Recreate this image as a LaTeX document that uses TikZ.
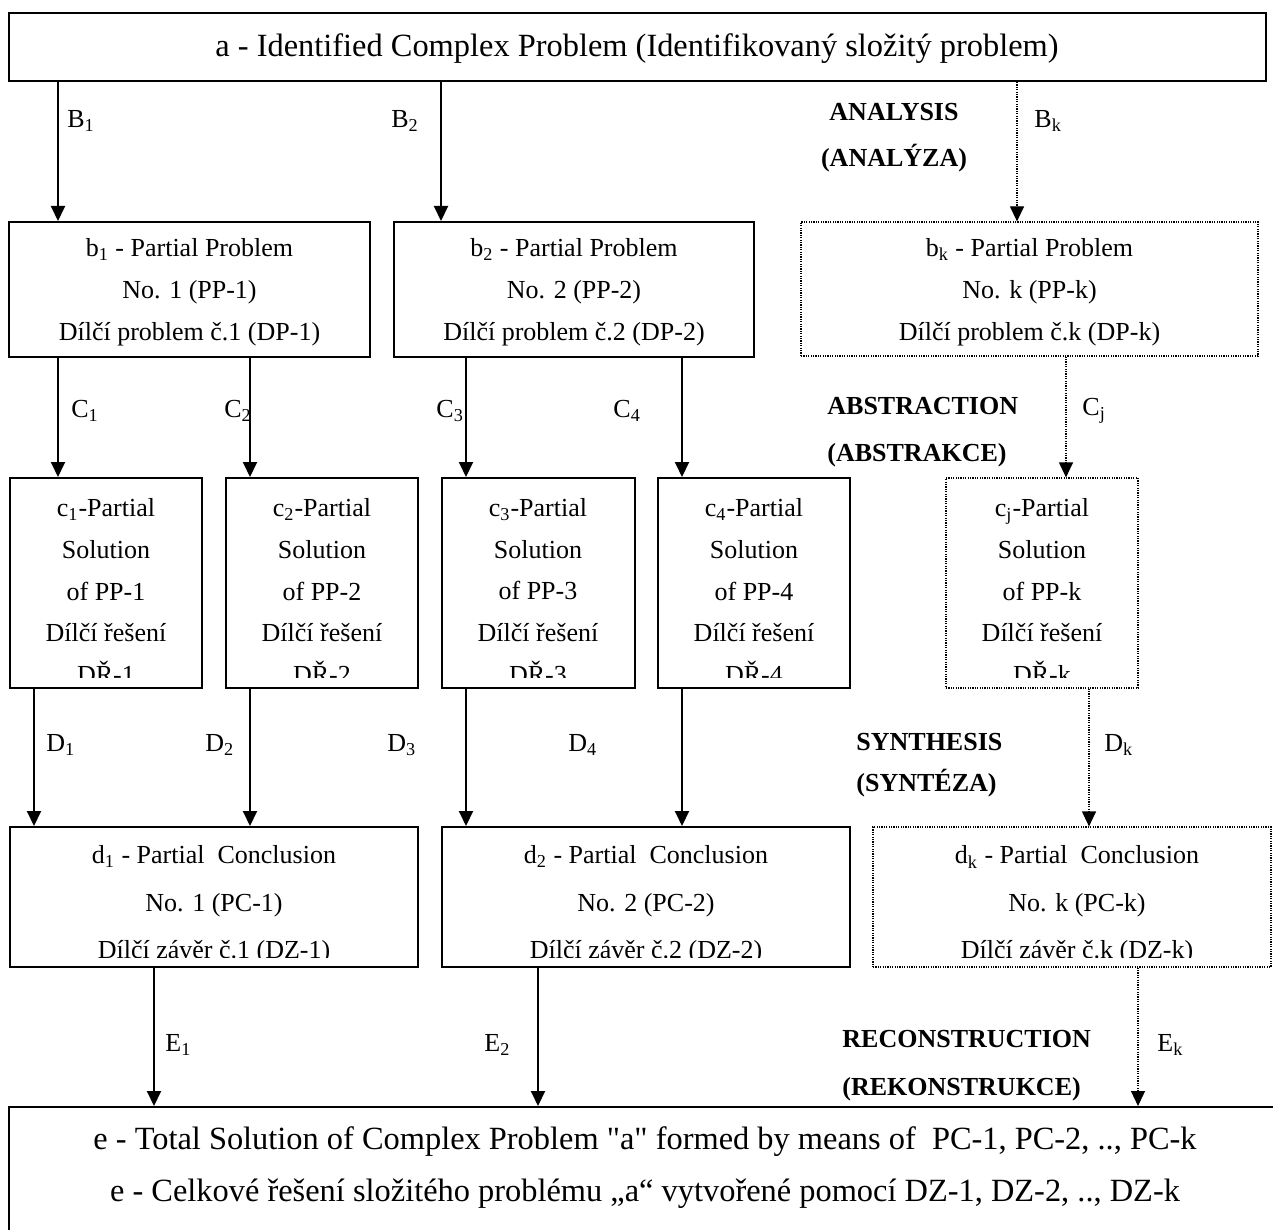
\documentclass[tikz,border=0pt]{standalone}
\usepackage{fontspec}
\setmainfont{Liberation Serif}[Ligatures=TeXOff]
\usetikzlibrary{arrows.meta,fit}
\begin{document}
\begin{tikzpicture}[x=0.5pt,y=-0.5pt,
  box/.style={draw, line width=1pt, inner sep=0pt},
  dbox/.style={draw, line width=0.6pt, dash pattern=on 0.6pt off 0.6pt, inner sep=0pt},
  arr/.style={line width=1pt, -{Triangle[width=7pt,length=7.5pt]}},
  darr/.style={line width=0.6pt, dash pattern=on 0.6pt off 0.6pt, -{Triangle[width=7pt,length=7.5pt]}},
  txt/.style={inner sep=0pt, align=center},
  lbl/.style={inner sep=0pt, anchor=west, font=\fontsize{13pt}{15pt}\selectfont},
  phase/.style={inner sep=0pt, font=\fontsize{13pt}{23.5pt}\selectfont\bfseries},
  fa/.style={font=\fontsize{16.2pt}{20pt}\selectfont},
  fb/.style={font=\fontsize{13pt}{21pt}\selectfont},
  fc/.style={font=\fontsize{13pt}{20.85pt}\selectfont},
  fd/.style={font=\fontsize{13pt}{23.75pt}\selectfont},
  fe/.style={font=\fontsize{16.2pt}{26pt}\selectfont}]
\clip (0,0) rectangle (1273,1230);
\fill[white] (0,0) rectangle (1273,1230);

% ---------- boxes ----------
\node[box, fit={(9,13)(1266,81)}] (a) {};
\node[txt, fa] (ta) at (637,49) {a - Identified Complex Problem (Identifikovaný složitý problem)};

\node[box, fit={(9,222)(370,357)}] (b1) {};
\node[box, fit={(394,222)(754,357)}] (b2) {};
\node[dbox, fit={(801,222)(1258,356)}] (bk) {};
\node[txt, fb] (tb1) at ([yshift=-1.5pt]b1.center) {b\textsubscript{1} - Partial Problem\\No. 1 (PP-1)\\Dílčí problem č.1 (DP-1)};
\node[txt, fb] (tb2) at ([yshift=-1.5pt]b2.center) {b\textsubscript{2} - Partial Problem\\No. 2 (PP-2)\\Dílčí problem č.2 (DP-2)};
\node[txt, fb] (tbk) at ([yshift=-1.5pt]bk.center) {b\textsubscript{k} - Partial Problem\\No. k (PP-k)\\Dílčí problem č.k (DP-k)};

\node[box, fit={(10,478)(202,688)}] (c1) {};
\node[box, fit={(226,478)(418,688)}] (c2) {};
\node[box, fit={(442,478)(635,688)}] (c3) {};
\node[box, fit={(658,478)(850,688)}] (c4) {};
\node[dbox, fit={(946,478)(1138,688)}] (cj) {};
\begin{scope}
  \clip (0,470) rectangle (1273,677);
  \node[txt, fc] (tc1) at (106,591) {c\textsubscript{1}-Partial\\Solution\\of PP-1\\Dílčí řešení\\DŘ-1};
  \node[txt, fc] (tc2) at (322,591) {c\textsubscript{2}-Partial\\Solution\\of PP-2\\Dílčí řešení\\DŘ-2};
  \node[txt, fc] (tc3) at (538,591) {c\textsubscript{3}-Partial\\Solution\\of PP-3\\Dílčí řešení\\DŘ-3};
  \node[txt, fc] (tc4) at (754,591) {c\textsubscript{4}-Partial\\Solution\\of PP-4\\Dílčí řešení\\DŘ-4};
  \node[txt, fc] (tcj) at (1042,591) {c\textsubscript{j}-Partial\\Solution\\of PP-k\\Dílčí řešení\\DŘ-k};
\end{scope}

\node[box, fit={(10,827)(418,967)}] (d1) {};
\node[box, fit={(442,827)(850,967)}] (d2) {};
\node[dbox, fit={(873,827)(1271,967)}] (dk) {};
\begin{scope}
  \clip (0,820) rectangle (1273,957);
  \node[txt, fd] (td1) at (214,905) {d\textsubscript{1} - Partial\ \ Conclusion\\No. 1 (PC-1)\\Dílčí závěr č.1 (DZ-1)};
  \node[txt, fd] (td2) at (646,905) {d\textsubscript{2} - Partial\ \ Conclusion\\No. 2 (PC-2)\\Dílčí závěr č.2 (DZ-2)};
  \node[txt, fd] (tdk) at (1077,905) {d\textsubscript{k} - Partial\ \ Conclusion\\No. k (PC-k)\\Dílčí závěr č.k (DZ-k)};
\end{scope}

\node[box, fit={(9,1107)(1281,1250)}] (e) {};
\node[txt, fe] (te) at (645,1168) {e - Total Solution of Complex Problem "a" formed by means of\ \ PC-1, PC-2, .., PC-k\\e - Celkové řešení složitého problému „a“ vytvořené pomocí DZ-1, DZ-2, .., DZ-k};

% ---------- x positions of connectors ----------
\coordinate (xB1) at (58,0);   \coordinate (xB2) at (441,0);  \coordinate (xBk) at (1017,0);
\coordinate (xC1) at (58,0);   \coordinate (xC2) at (250,0);  \coordinate (xC3) at (466,0);
\coordinate (xC4) at (682,0);  \coordinate (xCj) at (1066,0);
\coordinate (xD1) at (34,0);   \coordinate (xD2) at (250,0);  \coordinate (xD3) at (466,0);
\coordinate (xD4) at (682,0);  \coordinate (xDk) at (1089,0);
\coordinate (xE1) at (154,0);  \coordinate (xE2) at (538,0);  \coordinate (xEk) at (1138,0);

% ---------- connectors ----------
\draw[arr]  (xB1 |- a.south) -- (xB1 |- b1.north);
\draw[arr]  (xB2 |- a.south) -- (xB2 |- b2.north);
\draw[darr] (xBk |- a.south) -- (xBk |- bk.north);

\draw[arr]  (xC1 |- b1.south) -- (xC1 |- c1.north);
\draw[arr]  (xC2 |- b1.south) -- (xC2 |- c2.north);
\draw[arr]  (xC3 |- b2.south) -- (xC3 |- c3.north);
\draw[arr]  (xC4 |- b2.south) -- (xC4 |- c4.north);
\draw[darr] (xCj |- bk.south) -- (xCj |- cj.north);

\draw[arr]  (xD1 |- c1.south) -- (xD1 |- d1.north);
\draw[arr]  (xD2 |- c2.south) -- (xD2 |- d1.north);
\draw[arr]  (xD3 |- c3.south) -- (xD3 |- d2.north);
\draw[arr]  (xD4 |- c4.south) -- (xD4 |- d2.north);
\draw[darr] (xDk |- cj.south) -- (xDk |- dk.north);

\draw[arr]  (xE1 |- d1.south) -- (xE1 |- e.north);
\draw[arr]  (xE2 |- d2.south) -- (xE2 |- e.north);
\draw[darr] (xEk |- dk.south) -- (xEk |- e.north);

% ---------- connector labels ----------
\node[lbl] (lB1) at (67,121) {B\textsubscript{1}};
\node[lbl] (lB2) at (391,121) {B\textsubscript{2}};
\node[lbl] (lBk) at (1034,121) {B\textsubscript{k}};
\node[lbl] (lC1) at (71,411) {C\textsubscript{1}};
\node[lbl] (lC2) at (224,411) {C\textsubscript{2}};
\node[lbl] (lC3) at (436,411) {C\textsubscript{3}};
\node[lbl] (lC4) at (613,411) {C\textsubscript{4}};
\node[lbl] (lCj) at (1082,411) {C\textsubscript{j}};
\node[lbl] (lD1) at (46,745) {D\textsubscript{1}};
\node[lbl] (lD2) at (205,745) {D\textsubscript{2}};
\node[lbl] (lD3) at (387,745) {D\textsubscript{3}};
\node[lbl] (lD4) at (568,745) {D\textsubscript{4}};
\node[lbl] (lDk) at (1104,745) {D\textsubscript{k}};
\node[lbl] (lE1) at (165,1045) {E\textsubscript{1}};
\node[lbl] (lE2) at (484,1045) {E\textsubscript{2}};
\node[lbl] (lEk) at (1157,1045) {E\textsubscript{k}};

% ---------- phase labels ----------
\node[phase, align=center, font=\fontsize{13pt}{23pt}\selectfont\bfseries] (ph1) at (894,138) {ANALYSIS\\(ANALÝZA)};
\node[phase, align=left, anchor=west] (ph2) at (827,432) {ABSTRACTION\\(ABSTRAKCE)};
\node[phase, align=left, anchor=west, font=\fontsize{13pt}{20.5pt}\selectfont\bfseries] (ph3) at (856,765) {SYNTHESIS\\(SYNTÉZA)};
\node[phase, align=left, anchor=west, font=\fontsize{13pt}{24pt}\selectfont\bfseries] (ph4) at (842,1066) {RECONSTRUCTION\\(REKONSTRUKCE)};
\end{tikzpicture}
\end{document}
